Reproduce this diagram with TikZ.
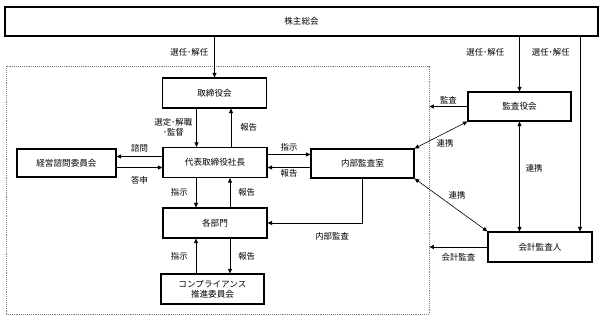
\documentclass[tikz,border=0pt]{standalone}
\usepackage{fontspec}
\setmainfont{Noto Sans CJK JP}
\usepackage{xcolor}
\usepackage{tikz}
\usetikzlibrary{arrows.meta,positioning}
\definecolor{gink}{HTML}{000000}
\definecolor{gdots}{HTML}{808080}

\begin{document}
\begin{tikzpicture}[x=1pt,y=-1pt,
  every node/.style={font=\fontsize{8.4}{10}\selectfont,inner sep=1pt,text=gink},
  box/.style={draw=gink,line width=1.2pt,minimum width=104pt,minimum height=30pt,font=\fontsize{8.6}{10}\selectfont},
  arr/.style={-{Triangle[length=4.5pt,width=4pt]},line width=0.6pt,gink},
  biarr/.style={{Triangle[length=4.5pt,width=4pt]}-{Triangle[length=4.5pt,width=4pt]},line width=0.6pt,gink},
  region/.style={draw=gdots,densely dotted,line width=0.9pt}]
  \useasboundingbox (0,0) rectangle (603,320);

  \node[box,minimum width=593pt,minimum height=29pt] (meeting) at (301.5,21.5) {株主総会};
  \node[region,minimum width=423pt,minimum height=248pt] (company) at (217.5,190) {};
  \node[box] (board) at (214.5,93) {取締役会};
  \node[box] (ceo) at (215,162.5) {代表取締役社長};
  \node[box,minimum width=99pt,minimum height=28pt] (advisory) at (66.5,163) {経営諮問委員会};
  \node[box,minimum width=103pt,minimum height=29pt] (audit) at (362.5,163.5) {内部監査室};
  \node[box] (depts) at (215,223) {各部門};
  \node[box,minimum width=103pt,align=center] (comp) at (212.5,289) {コンプライアンス\\推進委員会};
  \node[box,minimum width=103pt,minimum height=29pt] (kansa) at (519.5,106.5) {監査役会};
  \node[box] (acct) at (540,247) {会計監査人};
  \coordinate (acctin) at ([xshift=40pt]acct.north);

  \draw[arr] (meeting.south -| board.north) -- node[left=5pt,pos=0.38] {選任･解任} (board.north);
  \draw[arr] (meeting.south -| kansa.north) -- node[left=14pt,pos=0.29] {選任･解任} (kansa.north);
  \draw[arr] (meeting.south -| acctin) -- node[left=9pt,pos=0.08] {選任･解任} (acctin);

  \draw[arr] ([xshift=-18pt]board.south) -- node[left=3pt,align=center] {選定･解職\\･監督} ([xshift=-18pt]board.south |- ceo.north);
  \draw[arr] ([xshift=16pt]ceo.north) -- node[right=8pt] {報告} ([xshift=16pt]ceo.north |- board.south);

  \draw[arr] ([yshift=6pt]ceo.west) -- node[above=3pt] {諮問} ([yshift=6pt]ceo.west -| advisory.east);
  \draw[arr] ([yshift=-5pt]ceo.west -| advisory.east) -- node[below=7.5pt] {答申} ([yshift=-5pt]ceo.west);

  \draw[arr] ([yshift=8pt]ceo.east) -- node[above=2.5pt] {指示} ([yshift=8pt]ceo.east -| audit.west);
  \draw[arr] ([yshift=-4pt]audit.west) -- node[below=1pt] {報告} ([yshift=-4pt]audit.west -| ceo.east);

  \draw[arr] ([xshift=-19pt]ceo.south) -- node[left=7pt] {指示} ([xshift=-19pt]ceo.south |- depts.north);
  \draw[arr] ([xshift=15pt]depts.north) -- node[right=7pt] {報告} ([xshift=15pt]depts.north |- ceo.south);

  \draw[arr] ([xshift=-19pt]depts.south |- comp.north) -- node[left=7pt] {指示} ([xshift=-19pt]depts.south);
  \draw[arr] ([xshift=15pt]depts.south) -- node[right=7pt] {報告} ([xshift=15pt]depts.south |- comp.north);

  \draw[arr] (audit.south) |- node[pos=0.66,below=8pt] {内部監査} (depts.east);

  \draw[arr] (kansa.west) -- node[above=1.5pt] {監査} (kansa.west -| company.east);
  \draw[arr] (acct.west) -- node[below=5pt] {会計監査} (acct.west -| company.east);

  \draw[biarr] (kansa.south west) -- node[below=3pt,xshift=4pt] {連携} (audit.north east);
  \draw[biarr] (kansa.south) -- node[right=5pt,pos=0.43] {連携} (kansa.south |- acct.north);
  \draw[biarr] (audit.south east) -- node[above=5pt,xshift=6pt] {連携} (acct.north west);
\end{tikzpicture}
\end{document}
